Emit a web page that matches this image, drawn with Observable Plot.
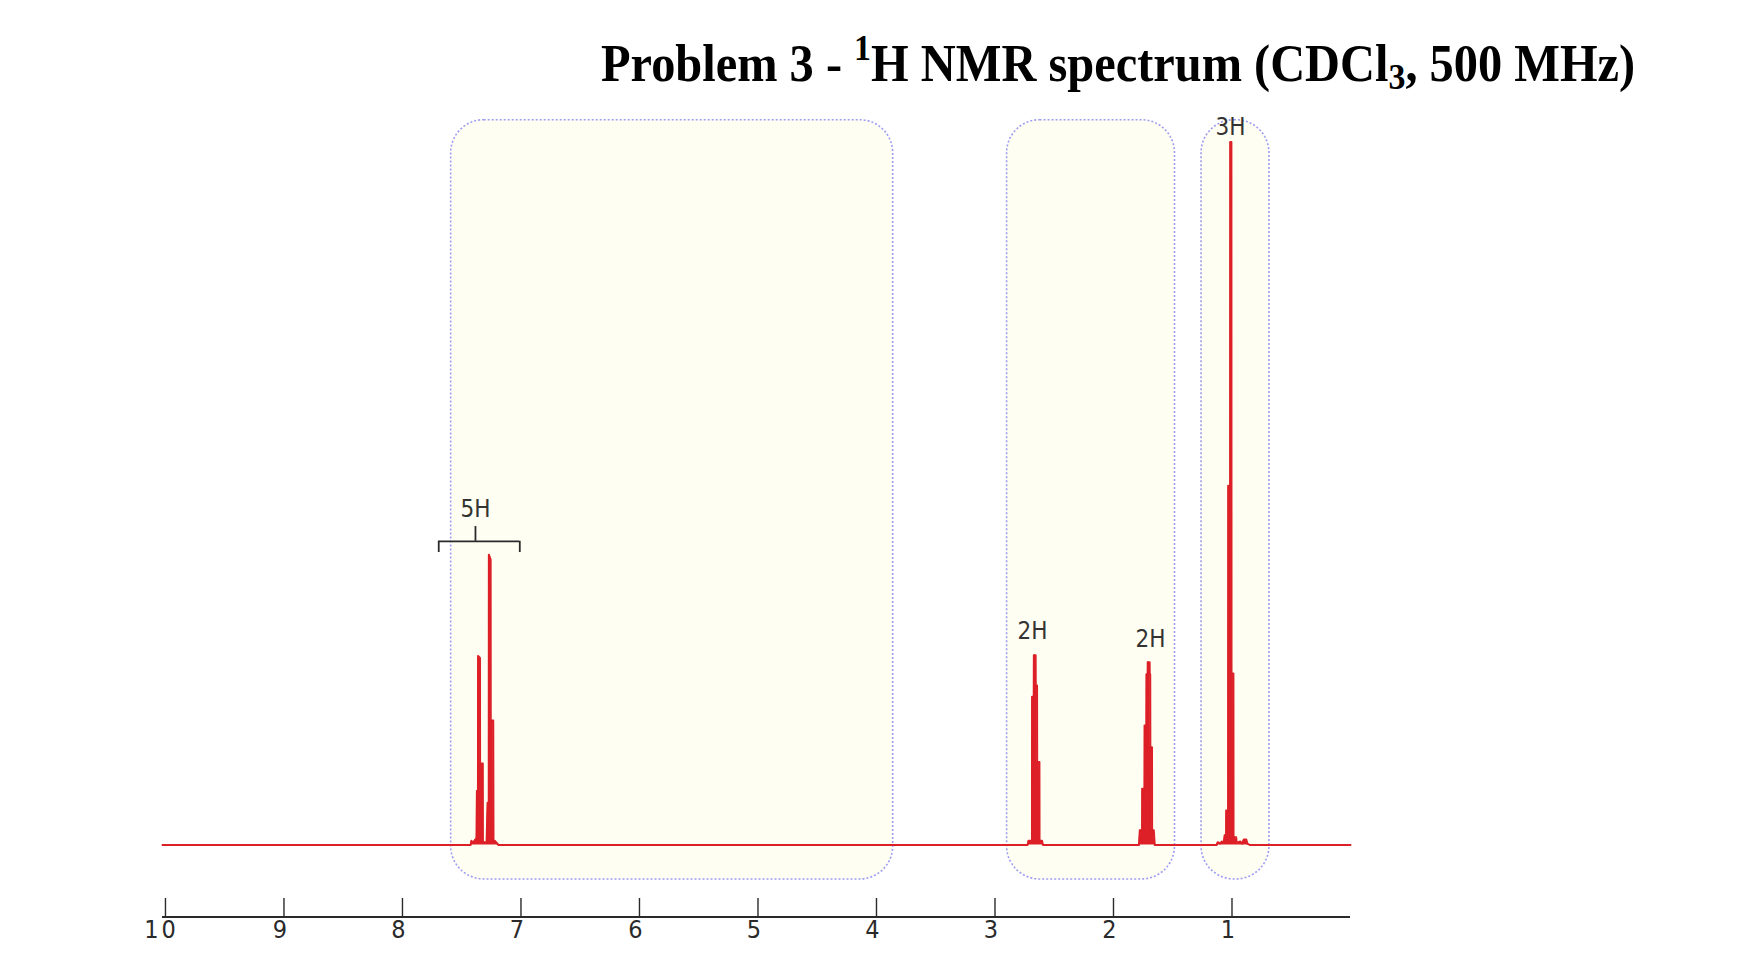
<!DOCTYPE html>
<html>
<head>
<meta charset="utf-8">
<script src="https://cdn.jsdelivr.net/npm/d3@7"></script>
<script src="https://cdn.jsdelivr.net/npm/@observablehq/plot@0.6"></script>
<style>
  body { margin: 0; background: #fff; }
  #head { position: relative; width: 1742px; height: 100px; }
  #title {
    position: absolute; left: 601px; top: 41px;
    font-family: "Liberation Serif", "Times New Roman", serif;
    font-weight: bold; font-size: 48.4px; line-height: 48px;
    white-space: nowrap; color: #000;
    transform: scaleY(1.08); transform-origin: 0 40px;
  }
  #title sup { font-size: 0.7em; vertical-align: baseline; position: relative; top: -0.55em; }
  #title sub { font-size: 0.7em; vertical-align: baseline; position: relative; top: 0.22em; }
  #chart { width: 1742px; height: 864px; }
</style>
</head>
<body>
<div id="head"><div id="title">Problem 3 - <sup>1</sup>H NMR spectrum (CDCl<sub>3</sub>, 500 MHz)</div></div>
<div id="chart"></div>
<script>
// ---- data (chemical shift in ppm, relative intensity) ----
const aromaticPpm = [7.425, 7.418, 7.405, 7.384, 7.376, 7.372, 7.363, 7.362, 7.346, 7.345, 7.322, 7.321, 7.300, 7.290, 7.282, 7.272, 7.271, 7.256, 7.255, 7.234, 7.232, 7.220, 7.205, 7.190];
const aromaticIntensity = [0, 0.6, 0.3, 0.8, 0.3, 7.7, 7.7, 26.9, 26.6, 11.6, 11.6, 0.5, 0.3, 0.5, 6.0, 6.0, 41.3, 40.6, 17.7, 17.7, 0.6, 0.6, 0.3, 0];

const ch2aPpm = [2.725, 2.717, 2.700, 2.688, 2.687, 2.673, 2.672, 2.657, 2.656, 2.645, 2.644, 2.625, 2.624, 2.603, 2.595];
const ch2aIntensity = [0, 0.6, 0.6, 0.3, 21.1, 21.1, 27.0, 27.0, 22.7, 22.7, 11.8, 11.8, 0.6, 0.6, 0];

const ch2bPpm = [1.785, 1.778, 1.759, 1.758, 1.739, 1.738, 1.723, 1.722, 1.712, 1.711, 1.695, 1.694, 1.690, 1.689, 1.675, 1.674, 1.660, 1.652];
const ch2bIntensity = [0, 2.1, 2.1, 8.0, 8.0, 17.0, 17.0, 24.3, 24.3, 26.0, 26.0, 24.3, 24.3, 13.9, 13.9, 2.1, 2.1, 0];

const ch3Ppm = [1.130, 1.120, 1.100, 1.085, 1.070, 1.062, 1.050, 1.049, 1.033, 1.032, 1.016, 1.015, 1.005, 1.004, 0.988, 0.987, 0.965, 0.960, 0.930, 0.915, 0.900, 0.880, 0.870, 0.850];
const ch3Intensity = [0, 0.4, 0.2, 0.5, 0.3, 1.4, 1.4, 4.9, 4.9, 51.1, 51.1, 100, 100, 24.4, 24.4, 1.1, 1.1, 0.3, 0.5, 0.2, 0.8, 0.8, 0.2, 0];

const spectrumStartPpm = 10.025;
const spectrumEndPpm = 0;

const tickValues = [10, 9, 8, 7, 6, 5, 4, 3, 2, 1];

const integralLabels = ["5H", "2H", "2H", "3H"];
const integralPpm = [7.384, 2.684, 1.688, 1.013];
const integralIntensity = [47.7, 30.4, 29.2, 102.1];

const bracketLeftPpm = 7.694, bracketRightPpm = 7.010, bracketCenterPpm = 7.384;
const bracketLevel = 43.2, bracketFoot = 41.6, bracketStem = 45.3;

const regionLeftPpm = [7.589, 2.898, 1.257];
const regionRightPpm = [3.859, 1.481, 0.684];
const regionTop = 103.1, regionBottom = -4.9;

// ---- build tables ----
const zip = (p, v) => p.map((d, k) => ({ppm: d, i: v[k]}));
const spectrum = [
  {ppm: spectrumStartPpm, i: 0},
  ...zip(aromaticPpm, aromaticIntensity),
  ...zip(ch2aPpm, ch2aIntensity),
  ...zip(ch2bPpm, ch2bIntensity),
  ...zip(ch3Ppm, ch3Intensity),
  {ppm: spectrumEndPpm, i: 0}
];
const regions = regionLeftPpm.map((l, k) => ({x1: l, x2: regionRightPpm[k], y1: regionBottom, y2: regionTop}));
const labels = integralLabels.map((t, k) => ({t, ppm: integralPpm[k], i: integralIntensity[k]}));

const yMin = -10.24, yMax = 105.9, tickTop = -7.61;
const red = "#dd1f27";
const ink = "#2a2a2a";
const narrow = "'Liberation Sans Narrow', 'Arial Narrow', 'DejaVu Sans Condensed', sans-serif";

const chart = Plot.plot({
  width: 1742,
  height: 864,
  marginLeft: 162,
  marginRight: 392,
  marginTop: 0,
  marginBottom: 47.5,
  style: {fontFamily: narrow, background: "transparent", overflow: "visible"},
  x: {domain: [spectrumStartPpm, spectrumEndPpm], label: null},
  y: {domain: [yMin, yMax], axis: null},
  marks: [
    Plot.rect(regions, {x1: "x1", x2: "x2", y1: "y1", y2: "y2", rx: 33, ry: 33,
      fill: "#fffef2", stroke: "#9d9df2", strokeWidth: 1.6, strokeDasharray: "2,2"}),
    Plot.areaY(spectrum, {x: "ppm", y: "i", fill: red}),
    Plot.line(spectrum, {x: "ppm", y: "i", stroke: red, strokeWidth: 2}),
    Plot.ruleY([yMin], {stroke: ink, strokeWidth: 2.2}),
    Plot.ruleX(tickValues, {y1: yMin, y2: tickTop, stroke: ink, strokeWidth: 1.4}),
    Plot.axisX({ticks: tickValues, tickSize: 0, tickPadding: 3, tickFormat: d => String(d),
      fontSize: 25, fontFamily: narrow, fill: ink, dx: -4, label: null}),
    // 5H integral bracket
    Plot.ruleY([bracketLevel], {x1: bracketLeftPpm, x2: bracketRightPpm, stroke: ink, strokeWidth: 1.8}),
    Plot.ruleX([bracketLeftPpm, bracketRightPpm], {y1: bracketFoot, y2: bracketLevel, stroke: ink, strokeWidth: 1.8}),
    Plot.ruleX([bracketCenterPpm], {y1: bracketLevel, y2: bracketStem, stroke: ink, strokeWidth: 1.8}),
    Plot.text(labels, {x: "ppm", y: "i", text: "t", fontSize: 24, fontFamily: narrow, fill: "#333"})
  ]
});
document.getElementById("chart").appendChild(chart);
// the reference spaces the two digits of "10" slightly apart
d3.select(chart).selectAll("text").filter(function () { return this.textContent === "10"; })
  .attr("letter-spacing", "3px");
</script>
</body>
</html>
